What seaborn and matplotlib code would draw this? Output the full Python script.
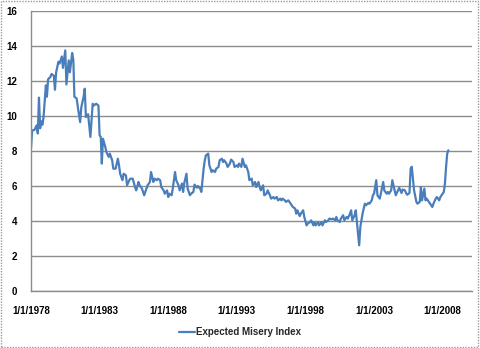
import numpy as np
import pandas as pd
import matplotlib
matplotlib.use("Agg")
import matplotlib.pyplot as plt
import matplotlib.dates as mdates
from matplotlib.patches import Rectangle
from matplotlib.lines import Line2D
import seaborn as sns

# months since Jan 1978
month_offsets = [
    0, 1, 3, 5, 6, 7, 8, 9, 10, 11, 13, 14, 15, 17, 18, 20, 21, 22, 24, 25,
    27, 28, 30, 31, 33, 34, 36, 37, 38, 40, 41, 43, 44, 46, 47, 48, 50, 51, 52, 54,
    55, 57, 59,
    60, 61, 62, 63, 65, 66, 68, 69, 71, 72, 74, 76, 77, 78, 80, 81, 83, 84, 86, 87,
    89, 91, 92, 94, 95, 97, 99, 101, 102, 104, 105, 107, 108, 110, 111, 113, 114, 116,
    117, 119, 120, 121, 123, 124, 126, 127, 129, 130, 132, 133, 134, 136, 137, 139, 140,
    142, 143, 145, 146, 148, 149,
    151, 152, 153, 155, 156, 158, 159, 161, 162, 164, 165, 167, 168, 169, 171, 172, 174,
    175, 177, 178, 180, 181, 182, 184, 185, 187, 188, 190, 191, 193, 194, 196, 197, 199,
    200, 201, 203, 204, 206, 207, 209, 210, 212, 213, 215, 216, 218, 219, 220, 222, 223,
    225, 226, 228, 229, 231, 232, 233, 235, 236, 238, 239,
    241, 242, 244, 245, 247, 248, 249, 251, 252, 254, 255, 257, 258, 260, 261, 263, 264,
    266, 267, 268, 270, 271, 273, 274, 276, 277, 279, 280, 281, 283, 284, 286, 287, 288,
    289, 290, 292, 293, 295, 296, 298, 299, 300, 302, 303, 305, 306, 308, 309, 311, 312,
    313, 315, 316, 318, 319, 321, 322, 324, 325, 327, 328, 329, 331, 332, 333, 335, 337,
    338, 340, 341, 342, 344, 345, 346, 348, 349, 351, 352, 354, 355, 357, 358, 360, 361,
    362, 363, 364, 365,
]

misery_index = [
    8.14, 9.18, 9.20, 9.47, 9.00, 11.05, 9.30, 9.70, 9.50, 9.94, 11.75, 11.10, 12.10, 12.23,
    12.40, 12.30, 11.50, 12.50, 13.10, 13.00, 13.40, 12.75, 13.75, 11.80, 13.18, 12.50, 13.60,
    13.20, 11.10, 11.00, 10.50, 9.65, 10.50, 11.10, 11.56, 9.94, 10.10, 9.47, 8.80, 10.70,
    10.60, 10.70, 10.60,
    8.90, 8.80, 7.28, 8.70, 8.23, 7.94, 7.66, 7.85, 7.47, 6.99, 6.99, 7.56, 7.18, 6.70, 6.33,
    6.70, 6.61, 6.04, 6.33, 6.42, 6.42, 5.94, 5.75, 6.23, 6.04, 5.85, 5.47, 5.85, 6.04, 6.23,
    6.80, 6.23, 6.42, 6.33, 6.42, 6.33, 5.94, 5.75, 5.56, 5.75, 5.37, 5.56, 5.47, 5.85, 6.80,
    6.33, 6.04, 5.75, 6.14, 5.66, 6.14, 6.70, 5.85, 5.47, 5.56, 5.66, 6.08, 5.90, 6.00, 5.85,
    5.66,
    6.99, 7.47, 7.75, 7.85, 7.18, 6.80, 6.90, 6.80, 6.99, 7.09, 7.47, 7.56, 7.37, 7.47, 7.28,
    7.09, 7.28, 7.51, 7.37, 7.09, 7.18, 7.09, 7.28, 7.09, 7.56, 7.09, 7.18, 6.80, 6.33, 6.42,
    6.04, 6.23, 5.94, 6.23, 5.94, 5.75, 6.04, 5.47, 5.56, 5.75, 5.47, 5.28, 5.37, 5.28, 5.37,
    5.18, 5.28, 5.18, 5.28, 5.18, 5.09, 5.18, 5.09, 4.90, 4.80, 4.71, 4.42, 4.61, 4.28, 4.42,
    4.61, 4.23,
    3.75, 3.85, 3.94, 4.04, 3.75, 3.94, 3.75, 3.94, 3.75, 3.94, 3.75, 4.04, 3.94, 4.04, 4.14,
    4.09, 4.14, 4.04, 4.23, 4.04, 3.94, 4.14, 4.33, 4.04, 4.23, 4.14, 4.42, 4.61, 4.04, 4.33,
    4.61, 3.28, 2.61, 3.66, 4.04, 4.42, 4.99, 4.90, 5.03, 4.99, 5.18, 5.47, 5.56, 6.33, 5.47,
    5.28, 5.56, 6.23, 5.75, 5.56, 5.66, 5.56, 5.75, 6.33, 5.75, 5.47, 5.75, 5.90, 5.60, 5.80,
    5.75, 5.60, 5.50, 5.60, 7.00, 7.10, 5.75, 5.09, 4.99, 5.09, 5.94, 5.18, 5.85, 5.18, 5.28,
    5.09, 4.99, 4.80, 4.99, 5.28, 5.37, 5.18, 5.37, 5.56, 5.66, 6.13, 7.09, 7.85, 8.04,
]

x_tick_years = [1978, 1983, 1988, 1993, 1998, 2003, 2008]
y_ticks = [0, 2, 4, 6, 8, 10, 12, 14, 16]
series_name = "Expected Misery Index"

n = min(len(month_offsets), len(misery_index))
dates = [pd.Timestamp(1978 + m // 12, m % 12 + 1, 1) for m in month_offsets[:n]]
df = pd.DataFrame({"date": dates, "value": misery_index[:n]})

sns.set_style("white")
plt.rcParams["font.family"] = ["Liberation Sans", "DejaVu Sans"]

fig = plt.figure(figsize=(4.8, 3.48), dpi=100)
ax = fig.add_axes([31 / 480, 1 - 291 / 348, (472 - 31) / 480, (291 - 11) / 348])

line_color = "#4A7EBB"
sns.lineplot(data=df, x="date", y="value", ax=ax, color=line_color, linewidth=1.6,
             legend=False)

ax.set_xlim(pd.Timestamp("1978-01-01"), pd.Timestamp("2010-02-20"))
ax.set_ylim(0, 16)
ax.set_yticks(y_ticks)
ax.set_yticklabels([str(v) for v in y_ticks], fontsize=7, fontweight="bold")
ax.set_xticks([pd.Timestamp(y, 1, 1) for y in x_tick_years])
ax.set_xticklabels([f"1/1/{y}" for y in x_tick_years], fontsize=7, fontweight="bold")
ax.tick_params(axis="both", length=0, colors="black")
ax.tick_params(axis="y", pad=10)
ax.tick_params(axis="x", pad=11)
ax.set_xlabel("")
ax.set_ylabel("")

ax.grid(axis="y", color="#8C8C8C", linewidth=1.0)
ax.grid(axis="x", visible=False)
ax.set_axisbelow(True)
for side in ["top", "right"]:
    ax.spines[side].set_visible(False)
for side in ["left", "bottom"]:
    ax.spines[side].set_color("#8C8C8C")
    ax.spines[side].set_linewidth(1.0)

handle = Line2D([0], [0], color=line_color, linewidth=1.6)
fig.legend([handle], [series_name], loc="center", bbox_to_anchor=(240 / 480, 1 - 332 / 348),
           frameon=False, prop={"size": 7, "weight": "bold"}, handlelength=1.6,
           handletextpad=0.1)

fig.patches.append(Rectangle((0.002, 0.003), 0.994, 0.994, transform=fig.transFigure,
                             fill=False, edgecolor="#9A9A9A", linestyle=(0, (1, 1)),
                             linewidth=1.0))

fig.savefig("out.png", dpi=100)
